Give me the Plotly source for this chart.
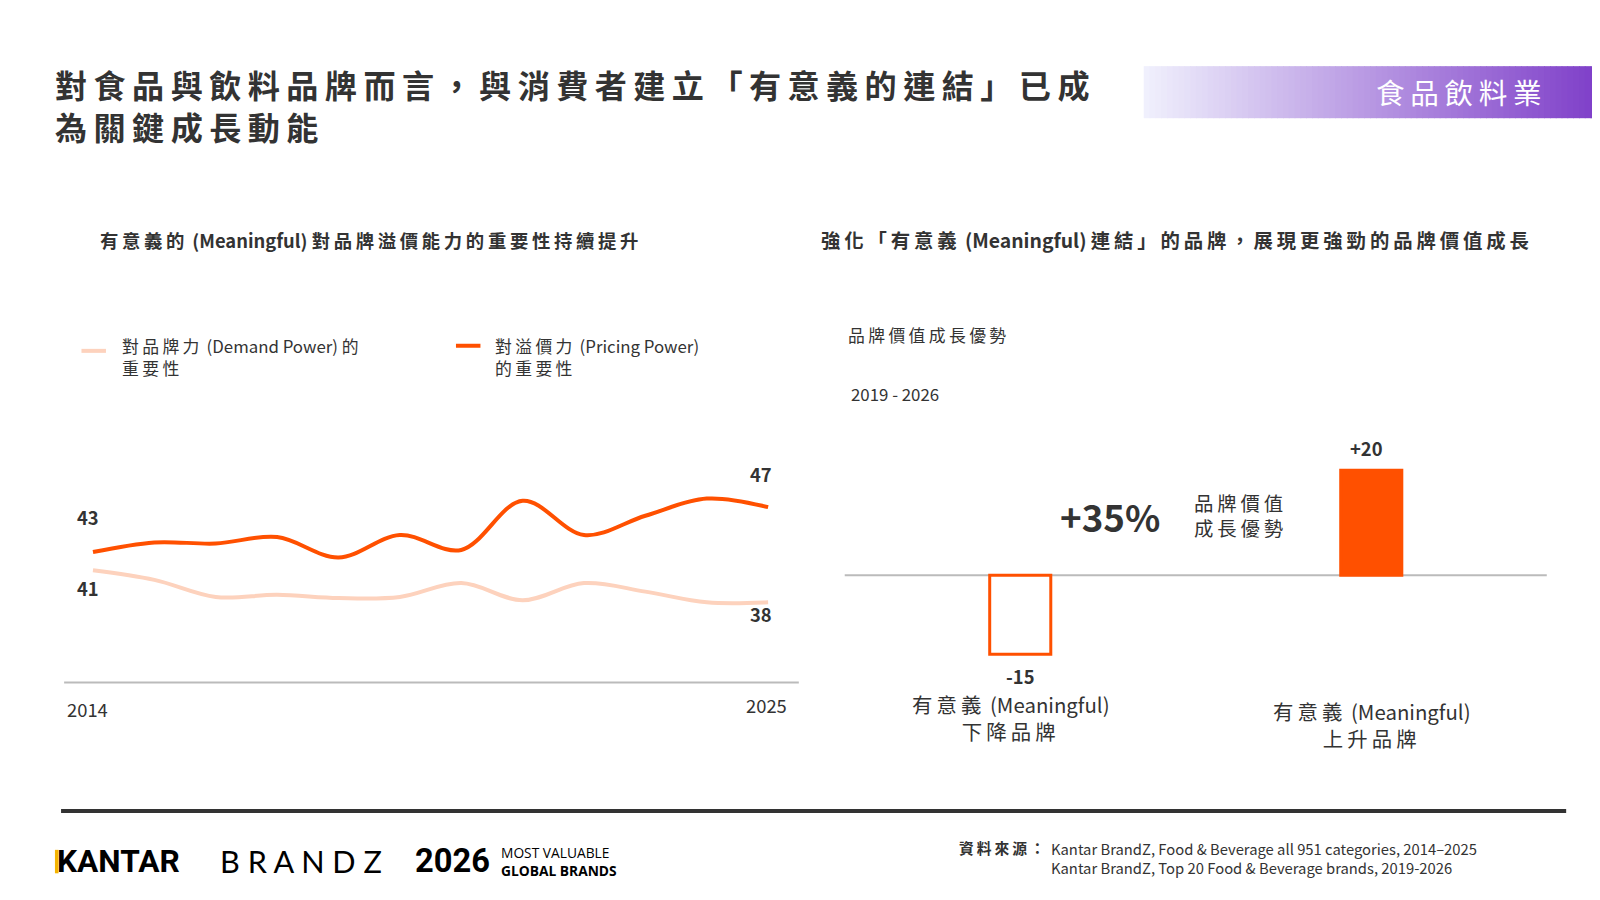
import plotly.graph_objects as go

years = list(range(2014, 2026))
pricing = [43, 43.9, 43.8, 44.4, 42.5, 44.6, 43.2, 47.8, 44.6, 46.4, 48.0, 47.2]
demand = [41.3, 40.4, 38.8, 39.0, 38.7, 38.8, 40.1, 38.5, 40.1, 39.3, 38.3, 38.3]
bar_cats = ["有意義 (Meaningful)<br>下降品牌", "有意義 (Meaningful)<br>上升品牌"]
bar_vals = [-15, 20]
bar_labels = ["-15", "+20"]

W, H = 1600, 900
RW, RH = 1568, 882
S = W / RW
def px(x): return x / RW
def py(y): return 1 - y / RH

F = "Noto Sans CJK TC"
DARK = "#333333"
ORANGE = "#ff5000"
LIGHT = "#fdd2bd"

def spaced(s, sp="\u2009"):
    out = ""
    for ch in s:
        out += ch
        if ord(ch) > 0x2E80:
            out += sp
    return out

fig = go.Figure()
fig.add_trace(go.Scatter(x=years, y=demand, mode="lines", line=dict(color=LIGHT, width=4, shape="spline"),
                         xaxis="x", yaxis="y", hoverinfo="skip"))
fig.add_trace(go.Scatter(x=years, y=pricing, mode="lines", line=dict(color=ORANGE, width=4, shape="spline"),
                         xaxis="x", yaxis="y", hoverinfo="skip"))
fig.add_trace(go.Bar(x=[0, 1], y=bar_vals, width=0.174, xaxis="x2", yaxis="y2",
                     marker=dict(color=["white", ORANGE], line=dict(color=ORANGE, width=3)), hoverinfo="skip"))

ann = []
def T(x, y, text, size=15, color=DARK, bold=False, xanchor="left", yanchor="middle", align="left", family=F):
    if bold:
        text = "<b>" + text + "</b>"
    ann.append(dict(x=px(x), y=py(y), xref="paper", yref="paper", text=text, showarrow=False,
                    font=dict(size=size * S, color=color, family=family), xanchor=xanchor, yanchor=yanchor, align=align))

T(44, 95, spaced("對食品與飲料品牌而言，與消費者建立「有意義的連結」已成") + "<br>" + spaced("為關鍵成長動能"), 31.5, bold=True)
T(1510, 82, spaced("食品飲料業"), 28, color="white", xanchor="right")
T(88, 227, spaced("有意義的 (Meaningful) 對品牌溢價能力的重要性持續提升"), 18, bold=True)
T(795, 227, spaced("強化「有意義 (Meaningful) 連結」的品牌，展現更強勁的品牌價值成長"), 19, bold=True)
T(110, 342, spaced("對品牌力 (Demand Power) 的") + "<br>" + spaced("重要性"), 16.5)
T(475, 342, spaced("對溢價力 (Pricing Power)") + "<br>" + spaced("的重要性"), 16.5)
T(66, 499, "43", 18, bold=True)
T(66, 568, "41", 18, bold=True)
T(751, 457, "47", 18, bold=True, xanchor="right")
T(751, 594, "38", 18, bold=True, xanchor="right")
T(56, 687, "2014", 18)
T(765, 683, "2025", 18, xanchor="right")
T(821, 320, spaced("品牌價值成長優勢"), 16.5)
T(824, 378, "2019 - 2026", 16.5)
T(1080, 498, "+35%", 36, bold=True, xanchor="center")
T(1160, 497, spaced("品牌價值") + "<br>" + spaced("成長優勢"), 19)
T(992, 655, "-15", 18, bold=True, xanchor="center")
T(1331, 431, "+20", 18, bold=True, xanchor="center")
T(983, 695, spaced("有意義 (Meaningful)") + "<br>" + spaced("下降品牌"), 20, xanchor="center", align="center")
T(1337, 702, spaced("有意義 (Meaningful)") + "<br>" + spaced("上升品牌"), 20, xanchor="center", align="center")
T(46, 836, "KANTAR", 31, color="black", bold=True, family="Roboto")
T(206, 836, "B R A N D Z", 30, color="black", family="Lato")
T(397, 836, "2026", 32, color="black", bold=True, family="Roboto")
T(481, 836, "MOST VALUABLE<br><b>GLOBAL BRANDS</b>", 13.5, color="black", family="Open Sans")
T(930, 823, spaced("資料來源："), 14.5, bold=True)
T(1020, 833, "Kantar BrandZ, Food & Beverage all 951 categories, 2014–2025<br>Kantar BrandZ, Top 20 Food & Beverage brands, 2019-2026", 14.5)
fig.update_layout(annotations=ann)

shapes = []
n = 80
x0, x1 = 1113, 1568
c0, c1 = (240, 240, 253), (125, 60, 200)
for i in range(n):
    t = i / (n - 1)
    col = "rgb(%d,%d,%d)" % tuple(int(c0[k] + (c1[k] - c0[k]) * t) for k in range(3))
    a = x0 + (x1 - x0) * i / n
    b = x0 + (x1 - x0) * (i + 1) / n + 0.8
    shapes.append(dict(type="rect", xref="paper", yref="paper", x0=px(a), x1=px(b), y0=py(108), y1=py(57),
                       fillcolor=col, line=dict(width=0), layer="below"))
shapes.append(dict(type="line", xref="paper", yref="paper", x0=px(52), x1=px(1527), y0=py(787), y1=py(787),
                   line=dict(color="#333", width=4)))
shapes.append(dict(type="rect", xref="paper", yref="paper", x0=px(46), x1=px(49.5), y0=py(848), y1=py(825),
                   fillcolor="#f5b400", line=dict(width=0)))
shapes.append(dict(type="line", xref="paper", yref="paper", x0=px(72), x1=px(96), y0=py(336), y1=py(336),
                   line=dict(color=LIGHT, width=4)))
shapes.append(dict(type="line", xref="paper", yref="paper", x0=px(439), x1=px(463), y0=py(331), y1=py(331),
                   line=dict(color=ORANGE, width=4)))
shapes.append(dict(type="line", xref="paper", yref="paper", x0=px(820), x1=px(1508), y0=py(556), y1=py(556),
                   line=dict(color="#bbb", width=2), layer="below"))
shapes.append(dict(type="line", xref="paper", yref="paper", x0=px(55), x1=px(775), y0=py(661), y1=py(661),
                   line=dict(color="#bbb", width=2)))

fig.update_layout(
    width=W, height=H, margin=dict(l=0, r=0, t=0, b=0), paper_bgcolor="white", plot_bgcolor="rgba(0,0,0,0)",
    showlegend=False, shapes=shapes,
    xaxis=dict(domain=[px(55), px(775)], range=[2013.53, 2025.5], showgrid=False, zeroline=False,
               showticklabels=False, showline=False),
    yaxis=dict(domain=[py(660), py(420)], range=[30.9, 53.8], showgrid=False, zeroline=False,
               showticklabels=False, showline=False),
    xaxis2=dict(domain=[px(820), px(1508)], range=[-0.5, 1.5], showgrid=False, zeroline=False,
                showticklabels=False, anchor="y2"),
    yaxis2=dict(domain=[py(660), py(420)], range=[-20.2, 26.4], showgrid=False, zeroline=False,
                showticklabels=False, anchor="x2"),
)
fig.write_html("out.html")
